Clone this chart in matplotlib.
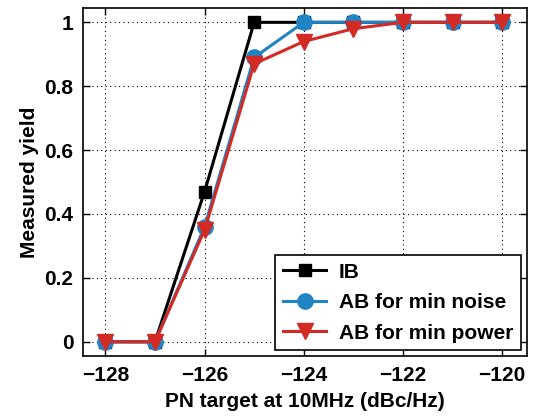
import numpy as np
import matplotlib.pyplot as plt

# Données
pn_target = [-128, -127, -126, -125, -124, -123, -122, -121, -120]
yield_ib = [0, 0, 0.47, 1, 1, 1, 1, 1, 1]
yield_min_noise = [0, 0, 0.36, 0.89, 1, 1, 1, 1, 1]
yield_min_power = [0, 0, 0.35, 0.87, 0.94, 0.98, 1, 1, 1]

plt.rcParams['font.family'] = ['Liberation Sans', 'DejaVu Sans']
plt.rcParams['font.weight'] = 'bold'

fig = plt.figure(figsize=(5.36, 4.19), dpi=100)
ax = fig.add_axes([0.155, 0.150, 0.828, 0.831])

ax.plot(pn_target, yield_ib, color="black", marker="s", markersize=9, linewidth=2.2, label="IB")
ax.plot(pn_target, yield_min_noise, color="#1f83c4", marker="o", markersize=11, linewidth=2.2,
        label="AB for min noise")
ax.plot(pn_target, yield_min_power, color="#d42a25", marker="v", markersize=12, linewidth=2.2,
        label="AB for min power")

ax.set_xlim(-128.45, -119.5)
ax.set_ylim(-0.045, 1.045)
ax.set_xticks([-128, -126, -124, -122, -120])
ax.set_xticklabels(["\u2212128", "\u2212126", "\u2212124", "\u2212122", "\u2212120"])
ax.set_yticks([0, 0.2, 0.4, 0.6, 0.8, 1])
ax.set_yticklabels(["0", "0.2", "0.4", "0.6", "0.8", "1"])
ax.tick_params(labelsize=15, direction="in", length=5, width=1, top=True, right=True, pad=7)
ax.grid(True, linestyle=(0, (1, 3)), color="black", linewidth=0.8)
for s in ax.spines.values():
    s.set_linewidth(1.2)

ax.set_xlabel("PN target at 10MHz (dBc/Hz)", fontsize=15, fontweight="bold", labelpad=5)
ax.set_ylabel("Measured yield", fontsize=15, fontweight="bold", labelpad=4)

leg = ax.legend(loc="lower right", fontsize=15, fancybox=False, edgecolor="black",
                framealpha=1, borderaxespad=0.3, handlelength=2.1, borderpad=0.35,
                labelspacing=0.55, handletextpad=0.6)
leg.get_frame().set_linewidth(1.2)

fig.savefig("out.png", dpi=100)
